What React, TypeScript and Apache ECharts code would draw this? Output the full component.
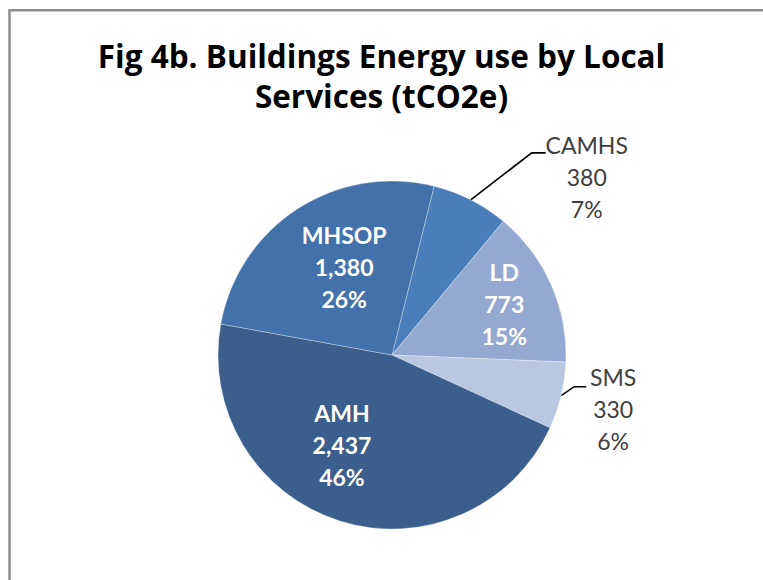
import React, { useEffect, useRef } from 'react';
import * as echarts from 'echarts';

// ---- data ----
const categories = ['CAMHS', 'LD', 'SMS', 'AMH', 'MHSOP'];
const values = [380, 773, 330, 2437, 1380];
const titleLines = ['Fig 4b. Buildings Energy use by Local', 'Services (tCO2e)'];

// ---- styles ----
const sliceColors = ['#4A7EBB', '#93A9D1', '#B9C8E1', '#3B5E8C', '#4371A9'];
const outsideNames = ['CAMHS', 'SMS'];

const insideShift: Record<string, [number, number]> = {
  LD: [30, -14],
  AMH: [-23, 4],
  MHSOP: [1, -12],
};
const outsideLine: Record<string, { bend: [number, number]; tail: number; textDx: number; textDy: number }> = {
  CAMHS: { bend: [61, -47], tail: 14, textDx: 41, textDy: -24 },
  SMS: { bend: [13, -9], tail: 12, textDx: 27, textDy: -26 },
};

export default function App() {
  const ref = useRef<HTMLDivElement>(null);

  useEffect(() => {
    if (!ref.current) return;
    const chart = echarts.init(ref.current, undefined, { renderer: 'svg' });

    const data = categories.map((name, i) => {
      const outside = outsideNames.includes(name);
      return {
        name,
        value: values[i],
        itemStyle: { color: sliceColors[i] },
        label: outside
          ? { position: 'outside', color: '#404040', fontWeight: 'normal' }
          : { position: 'inside', color: '#ffffff', fontWeight: 'bold' },
        labelLine: { show: outside },
      };
    });

    chart.setOption({
      animation: false,
      backgroundColor: '#ffffff',
      title: {
        text: titleLines.join('\n'),
        left: 'center',
        top: 35,
        padding: 0,
        textStyle: {
          fontFamily: 'Open Sans',
          fontWeight: 'bold',
          fontSize: 31.5,
          lineHeight: 40,
          color: '#000000',
        },
      },
      graphic: [
        {
          type: 'rect',
          shape: { x: 9.5, y: 10.3, width: 900, height: 800 },
          style: { fill: 'none', stroke: '#8c8c8c', lineWidth: 2.5 },
          silent: true,
        },
      ],
      series: [
        {
          type: 'pie',
          center: [392, 355],
          radius: 174,
          startAngle: 76,
          clockwise: true,
          avoidLabelOverlap: false,
          emphasis: { disabled: true },
          itemStyle: { borderColor: 'rgba(255,255,255,0.6)', borderWidth: 0.5 },
          label: {
            show: true,
            fontFamily: 'Lato',
            fontSize: 23,
            lineHeight: 32,
            align: 'center',
            formatter: (p: any) =>
              `${p.name}\n${Number(p.value).toLocaleString('en-US')}\n${Math.round(p.percent)}%`,
          },
          labelLine: {
            length: 40,
            length2: 15,
            lineStyle: { color: '#000000', width: 1.6 },
          },
          labelLayout: (params: any) => {
            const name = categories[params.dataIndex];
            if (insideShift[name]) {
              const [dx, dy] = insideShift[name];
              return { dx, dy };
            }
            const cfg = outsideLine[name];
            const pts = params.labelLinePoints;
            if (!cfg || !pts) return {};
            const p0 = pts[0];
            const p1 = [p0[0] + cfg.bend[0], p0[1] + cfg.bend[1]];
            const p2 = [p1[0] + cfg.tail, p1[1]];
            return {
              x: p2[0] + cfg.textDx,
              y: p2[1] + cfg.textDy,
              align: 'center',
              verticalAlign: 'top',
              labelLinePoints: [p0, p1, p2],
            };
          },
          data,
        },
      ],
    });

    return () => chart.dispose();
  }, []);

  return (
    <div
      ref={ref}
      style={{ position: 'fixed', left: 0, top: 0, width: 763, height: 580 }}
    />
  );
}
